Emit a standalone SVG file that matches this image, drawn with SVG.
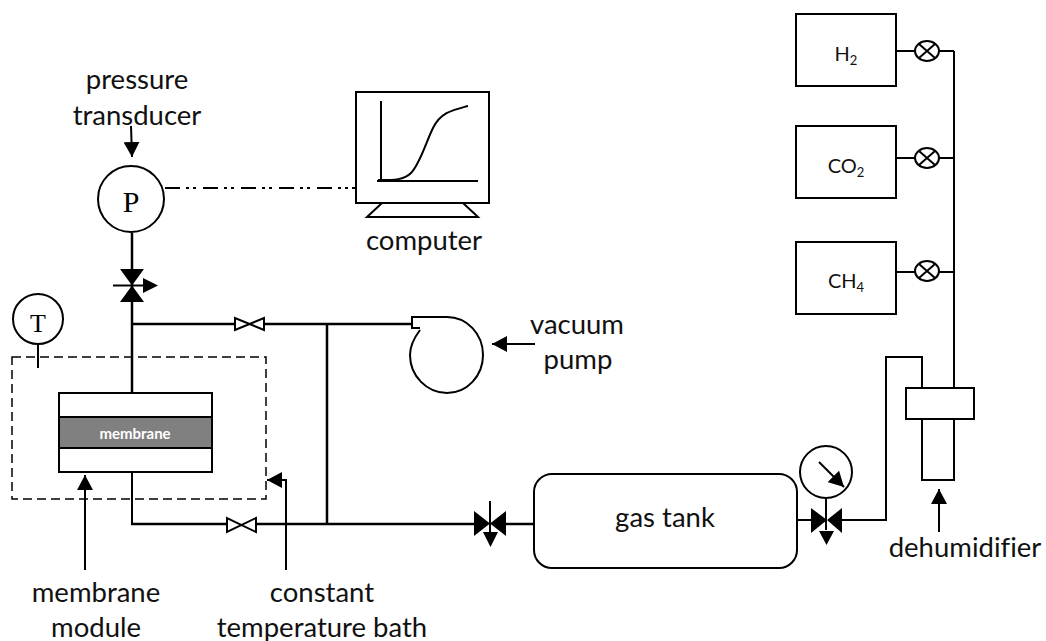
<svg xmlns="http://www.w3.org/2000/svg" width="1046" height="641" viewBox="0 0 1046 641">
<style>
.ln{fill:none;stroke:#000;stroke-width:2}
.th{fill:none;stroke:#000;stroke-width:2.5}
.box{fill:#fff;stroke:#000;stroke-width:2}
.vw{fill:#fff;stroke:#000;stroke-width:2}
.vb{fill:#000;stroke:none}
text{font-family:"Lato","Open Sans",sans-serif;fill:#111;text-anchor:middle;font-variant-ligatures:none}
.lb{font-size:27.500px}
.gs{font-size:20px}
.sub{font-size:13px}
.se{font-family:"Liberation Serif",serif;font-size:30px;fill:#000}
</style>
<defs>
<marker id="ah" markerUnits="userSpaceOnUse" markerWidth="16" markerHeight="16" viewBox="0 0 16 16" refX="15" refY="8" orient="auto"><path d="M0 0L15 8L0 16Z"/></marker>
</defs>
<rect width="1046" height="641" fill="#fff"/>
<g id="connectors">
<path class="th" d="M132 233V393"/>
<path class="th" d="M132 324H234M265 324H411M327 324V524"/>
<path class="ln" d="M132 472V524"/>
<path class="th" d="M131 524H227M257 524H476M506 524H534"/>
<path class="ln" d="M797 520H812M842 520H886V357H922V388"/>
<path class="ln" d="M954 388V51"/>
<path class="ln" d="M896 51H915M939 51H954M896 158H915M939 158H954M896 272H915M939 272H954"/>
<path class="ln" d="M165 188H348" stroke-dasharray="15 6 3 4 3 7"/>
<path class="ln" d="M352 188H356"/>
<path class="ln" d="M38 344V368"/>
<path class="ln" d="M826 498V530"/>
<path class="ln" marker-end="url(#ah)" d="M131 126L132 157"/>
<path class="ln" marker-end="url(#ah)" d="M85 570V475"/>
<path class="ln" marker-end="url(#ah)" d="M286 570V480H267"/>
<path class="ln" marker-end="url(#ah)" d="M535 344H492"/>
<path class="ln" marker-end="url(#ah)" d="M939 532V489"/>
</g>
<g id="pressure-transducer">
<circle class="box" cx="131" cy="199" r="33"/>
<text class="se" x="131" y="212">P</text>
<text class="lb" x="137" y="89">pressure</text>
<text class="lb" x="137" y="125">transducer</text>
</g>
<g id="three-way-valve">
<path class="vb" d="M120 269H144L132 285.500ZM120 302H144L132 285.500Z"/>
<path class="ln" d="M113 285.500H145"/>
<path class="vb" d="M143 278L158 285.500L143 293Z"/>
</g>
<g id="computer">
<rect class="box" x="356" y="92" width="133" height="111"/>
<path class="ln" d="M381 101V180M377 181H478"/>
<path class="ln" d="M378 180C395 180 404 180 411 173C420 164 426 142 433 128C441 112 453 110 468 106"/>
<path class="ln" d="M382 203L367 217H478L463 203"/>
<text class="lb" x="424" y="250">computer</text>
</g>
<g id="vacuum-pump">
<path class="ln" d="M420 330C414 338 410 346 410 355C410 376 427 393 447 393C467 393 483 376 483 355C483 334 467 317 447 317H412V328H420"/>
<text class="lb" x="577" y="334">vacuum</text>
<text class="lb" x="578" y="369">pump</text>
</g>
<g id="vent-valve">
<path class="vw" d="M235 318V330L264 318V330Z"/>
</g>
<g id="feed-valve">
<path class="vw" d="M227 518V532L256 518V532Z"/>
</g>
<g id="temperature-sensor">
<circle class="box" cx="38" cy="319" r="25"/>
<text class="se" x="38" y="332" style="font-size:26px">T</text>
</g>
<g id="constant-temperature-bath">
<rect x="12" y="357" width="254" height="142" fill="none" stroke="#000" stroke-width="1.500" stroke-dasharray="9 5"/>
<text class="lb" x="322" y="602">constant</text>
<text class="lb" x="322" y="637">temperature bath</text>
</g>
<g id="membrane-module">
<rect class="box" x="59" y="393" width="153" height="79"/>
<rect x="59" y="417" width="153" height="31" fill="#808080" stroke="#000" stroke-width="2"/>
<text x="135" y="439" style="font-size:15px;font-weight:700;fill:#fff">membrane</text>
<text class="lb" x="96" y="602">membrane</text>
<text class="lb" x="96" y="637">module</text>
</g>
<g id="left-valve">
<path class="vb" d="M474 511L490 523.500L474 536ZM506 511L490 523.500L506 536Z"/>
<path class="ln" d="M490 501V535"/>
<path class="vb" d="M483 532H498L490.500 547Z"/>
</g>
<g id="gas-tank">
<rect class="box" x="534" y="474" width="263" height="94" rx="18"/>
<text class="lb" x="665" y="527">gas tank</text>
</g>
<g id="right-valve">
<path class="vb" d="M811 508L827 520L811 533ZM842 508L827 520L842 533Z"/>
<path class="vb" d="M819 531H834L826.500 545Z"/>
</g>
<g id="gauge">
<circle class="box" cx="826" cy="472" r="26"/>
<path class="ln" marker-end="url(#ah)" d="M819 462L844 487"/>
</g>
<g id="dehumidifier">
<rect class="box" x="922" y="419" width="32" height="61"/>
<rect class="box" x="906" y="388" width="68" height="31"/>
<text class="lb" x="965" y="557">dehumidifier</text>
</g>
<g id="h2">
<rect class="box" x="796" y="14" width="100" height="72"/>
<text class="gs" x="846" y="61">H<tspan class="sub" dy="4">2</tspan></text>
<ellipse class="box" cx="927" cy="51" rx="12" ry="10"/>
<path class="ln" d="M919 44L935 58M935 44L919 58"/>
</g>
<g id="co2">
<rect class="box" x="796" y="126" width="100" height="72"/>
<text class="gs" x="846" y="173">CO<tspan class="sub" dy="4">2</tspan></text>
<ellipse class="box" cx="927" cy="158" rx="12" ry="10"/>
<path class="ln" d="M919 151L935 165M935 151L919 165"/>
</g>
<g id="ch4">
<rect class="box" x="796" y="242" width="100" height="72"/>
<text class="gs" x="846" y="288">CH<tspan class="sub" dy="4">4</tspan></text>
<ellipse class="box" cx="927" cy="271" rx="12" ry="10"/>
<path class="ln" d="M919 264L935 278M935 264L919 278"/>
</g>
</svg>
